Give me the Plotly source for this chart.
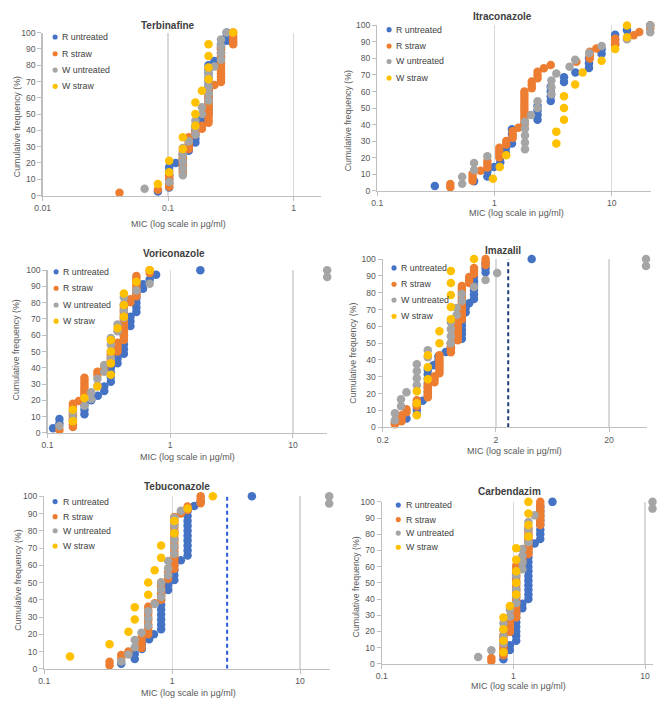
import plotly.graph_objects as go

# ---------------- DATA (MIC values in µg/ml and number of isolates at each MIC) ----------------
SERIES_NAMES = ["R untreated", "R straw", "W untreated", "W straw"]
PANEL_TITLES = ["Terbinafine", "Itraconazole", "Voriconazole", "Imazalil", "Tebuconazole", "Carbendazim"]

terbinafine_r_untreated_mic = [0.083, 0.102, 0.115, 0.131, 0.146, 0.165, 0.186, 0.21, 0.234, 0.264, 0.293]
terbinafine_r_untreated_n = [1, 6, 1, 2, 2, 5, 2, 13, 1, 4, 3]
terbinafine_r_straw_mic = [0.041, 0.083, 0.102, 0.131, 0.146, 0.165, 0.186, 0.21, 0.234, 0.264, 0.33]
terbinafine_r_straw_n = [1, 1, 5, 8, 5, 2, 2, 13, 1, 13, 5]
terbinafine_w_untreated_mic = [0.065, 0.102, 0.131, 0.146, 0.165, 0.186, 0.21, 0.234, 0.264, 0.293]
terbinafine_w_untreated_n = [1, 1, 5, 1, 3, 2, 5, 1, 4, 1]
terbinafine_w_straw_mic = [0.083, 0.102, 0.131, 0.165, 0.186, 0.21, 0.33]
terbinafine_w_straw_n = [1, 2, 2, 3, 1, 4, 1]

itraconazole_r_untreated_mic = [0.31, 0.67, 0.87, 0.99, 1.12, 1.25, 1.41, 1.8, 2.33, 3.02, 3.92, 4.9, 6.4, 8.2, 10.7, 13.5, 21.3]
itraconazole_r_untreated_n = [1, 1, 2, 1, 2, 2, 4, 1, 4, 4, 2, 1, 3, 2, 3, 1, 1]
itraconazole_r_straw_mic = [0.42, 0.65, 0.76, 0.87, 1.1, 1.26, 1.43, 1.6, 1.8, 2.08, 2.33, 2.64, 3.02, 5.0, 6.5, 7.4, 10.7, 15.4, 17.2, 21.3]
itraconazole_r_straw_n = [2, 3, 1, 3, 4, 2, 3, 1, 11, 3, 3, 1, 1, 1, 3, 1, 3, 1, 1, 2]
itraconazole_w_untreated_mic = [0.53, 0.67, 0.87, 1.82, 2.05, 2.33, 3.06, 3.37, 4.37, 4.88, 6.43, 8.2, 13.5, 21.3]
itraconazole_w_untreated_n = [2, 2, 1, 5, 1, 2, 3, 1, 1, 1, 1, 1, 1, 2]
itraconazole_w_straw_mic = [0.97, 1.11, 1.26, 3.37, 3.92, 4.88, 5.65, 8.2, 10.7, 13.5]
itraconazole_w_straw_n = [1, 1, 1, 2, 3, 1, 1, 1, 1, 2]

voriconazole_r_untreated_mic = [0.111, 0.125, 0.2, 0.227, 0.257, 0.29, 0.328, 0.372, 0.419, 0.474, 0.53, 0.6, 0.68, 0.767, 1.76]
voriconazole_r_untreated_n = [1, 2, 3, 1, 1, 2, 4, 2, 6, 3, 5, 2, 1, 1, 1]
voriconazole_r_straw_mic = [0.125, 0.161, 0.18, 0.2, 0.255, 0.29, 0.328, 0.372, 0.419, 0.474, 0.53, 0.68]
voriconazole_r_straw_n = [1, 9, 1, 8, 2, 2, 4, 4, 13, 2, 8, 2]
voriconazole_w_untreated_mic = [0.125, 0.161, 0.2, 0.227, 0.255, 0.29, 0.328, 0.372, 0.419, 0.53, 0.68, 19.0]
voriconazole_w_untreated_n = [1, 2, 1, 2, 2, 2, 4, 2, 4, 1, 1, 2]
voriconazole_w_straw_mic = [0.161, 0.2, 0.255, 0.328, 0.372, 0.419, 0.53, 0.68]
voriconazole_w_straw_n = [2, 1, 1, 4, 1, 3, 1, 1]

imazalil_r_untreated_mic = [0.256, 0.324, 0.40, 0.45, 0.5, 0.56, 0.62, 0.72, 0.8, 1.0, 1.08, 1.16, 1.28, 1.62, 4.14]
imazalil_r_untreated_n = [1, 1, 3, 1, 7, 1, 2, 1, 2, 6, 2, 1, 6, 3, 1]
imazalil_r_straw_mic = [0.256, 0.293, 0.324, 0.40, 0.5, 0.573, 0.634, 0.8, 0.92, 1.0, 1.16, 1.28, 1.62]
imazalil_r_straw_n = [1, 3, 2, 3, 5, 3, 7, 4, 7, 12, 3, 3, 3]
imazalil_w_untreated_mic = [0.256, 0.29, 0.324, 0.40, 0.5, 0.8, 0.9, 1.0, 1.28, 1.62, 2.05, 42.4]
imazalil_w_untreated_n = [2, 2, 1, 4, 2, 4, 2, 2, 1, 1, 1, 2]
imazalil_w_straw_mic = [0.40, 0.5, 0.634, 0.8, 1.28]
imazalil_w_straw_n = [3, 3, 2, 5, 1]
imazalil_breakpoint = 2.57

tebuconazole_r_untreated_mic = [0.40, 0.51, 0.58, 0.66, 0.72, 0.82, 0.93, 1.04, 1.17, 1.32, 1.49, 1.67, 4.2]
tebuconazole_r_untreated_n = [1, 2, 2, 1, 1, 8, 2, 4, 1, 10, 1, 1, 1]
tebuconazole_r_straw_mic = [0.324, 0.40, 0.455, 0.576, 0.65, 0.73, 0.82, 0.93, 1.04, 1.17, 1.32, 1.67]
tebuconazole_r_straw_n = [2, 2, 1, 4, 9, 1, 6, 3, 16, 1, 2, 3]
tebuconazole_w_untreated_mic = [0.40, 0.455, 0.51, 0.576, 0.65, 0.73, 0.82, 0.93, 1.04, 1.17, 16.9]
tebuconazole_w_untreated_n = [1, 1, 2, 1, 3, 1, 3, 3, 6, 1, 2]
tebuconazole_w_straw_mic = [0.159, 0.324, 0.455, 0.51, 0.65, 0.73, 0.82, 1.04, 1.32, 2.08]
tebuconazole_w_straw_n = [1, 1, 1, 2, 2, 1, 2, 2, 1, 1]
tebuconazole_breakpoint = 2.69

carbendazim_r_untreated_mic = [0.84, 0.94, 1.05, 1.17, 1.30, 1.45, 1.6, 1.98]
carbendazim_r_untreated_n = [2, 2, 7, 2, 12, 1, 8, 1]
carbendazim_r_straw_mic = [0.68, 0.84, 0.94, 1.05, 1.17, 1.30, 1.6]
carbendazim_r_straw_n = [2, 8, 5, 19, 3, 10, 9]
carbendazim_w_untreated_mic = [0.54, 0.68, 0.84, 0.94, 1.05, 1.17, 1.30, 1.45, 11.4]
carbendazim_w_untreated_n = [1, 1, 4, 2, 5, 4, 4, 1, 2]
carbendazim_w_straw_mic = [0.84, 0.94, 1.05, 1.30]
carbendazim_w_straw_n = [4, 1, 5, 4]

# x tick labels
ticks_terbinafine = [0.01, 0.1, 1]
ticks_decade = [0.1, 1, 10]
ticks_imazalil = [0.2, 2, 20]
y_ticks = list(range(0, 101, 10))

# ---------------- STYLE / LAYOUT ----------------
W, H = 669, 707
COLORS = ["#4472C4", "#ED7D31", "#A5A5A5", "#FFC000"]
FONT = "Liberation Sans, Arial, sans-serif"
TXT = "#595959"

data_by_panel = [
    [(terbinafine_r_untreated_mic, terbinafine_r_untreated_n), (terbinafine_r_straw_mic, terbinafine_r_straw_n),
     (terbinafine_w_untreated_mic, terbinafine_w_untreated_n), (terbinafine_w_straw_mic, terbinafine_w_straw_n)],
    [(itraconazole_r_untreated_mic, itraconazole_r_untreated_n), (itraconazole_r_straw_mic, itraconazole_r_straw_n),
     (itraconazole_w_untreated_mic, itraconazole_w_untreated_n), (itraconazole_w_straw_mic, itraconazole_w_straw_n)],
    [(voriconazole_r_untreated_mic, voriconazole_r_untreated_n), (voriconazole_r_straw_mic, voriconazole_r_straw_n),
     (voriconazole_w_untreated_mic, voriconazole_w_untreated_n), (voriconazole_w_straw_mic, voriconazole_w_straw_n)],
    [(imazalil_r_untreated_mic, imazalil_r_untreated_n), (imazalil_r_straw_mic, imazalil_r_straw_n),
     (imazalil_w_untreated_mic, imazalil_w_untreated_n), (imazalil_w_straw_mic, imazalil_w_straw_n)],
    [(tebuconazole_r_untreated_mic, tebuconazole_r_untreated_n), (tebuconazole_r_straw_mic, tebuconazole_r_straw_n),
     (tebuconazole_w_untreated_mic, tebuconazole_w_untreated_n), (tebuconazole_w_straw_mic, tebuconazole_w_straw_n)],
    [(carbendazim_r_untreated_mic, carbendazim_r_untreated_n), (carbendazim_r_straw_mic, carbendazim_r_straw_n),
     (carbendazim_w_untreated_mic, carbendazim_w_untreated_n), (carbendazim_w_straw_mic, carbendazim_w_straw_n)],
]
tick_sets = [ticks_terbinafine, ticks_decade, ticks_decade, ticks_imazalil, ticks_decade, ticks_decade]
breakpoints = [None, None, None, (imazalil_breakpoint, "#1F3D7A"), (tebuconazole_breakpoint, "#2A5BD7"), None]

# pixel geometry of each panel: plot box (left, right, top, bottom), x range (log10)
geom = [
    dict(box=(35, 317, 28, 193.3), xr=(-2, 0.22), title=(162, 21), xt=(173, 222), yt=(9, 123),
         leg=(47.7, 53, [32.5, 49.5, 66, 82.5])),
    dict(box=(373.7, 651, 20.7, 188.3), xr=(-1, 1.337), title=(500, 12), xt=(515, 211), yt=(344, 117),
         leg=(385.7, 391, [25, 41.7, 57.3, 74])),
    dict(box=(40, 323.3, 269, 434), xr=(-1, 1.281), title=(168, 252), xt=(182, 458), yt=(8.5, 350),
         leg=(48.7, 54, [270.7, 287.3, 304.3, 320.7])),
    dict(box=(379.3, 646.7, 257.7, 428.3), xr=(-0.699, 1.636), title=(500.7, 249.5), xt=(513, 452), yt=(349, 353),
         leg=(390.7, 396, [266.7, 283.3, 299.3, 315.7])),
    dict(box=(36.7, 325.5, 498.3, 673.3), xr=(-1, 1.231), title=(170.7, 488), xt=(182.7, 697.5), yt=(10, 583),
         leg=(47.7, 53.3, [503.7, 519, 533.3, 548.7])),
    dict(box=(378.3, 653, 504, 668.3), xr=(-1, 1.062), title=(507.7, 493), xt=(516.7, 690.5), yt=(352, 590),
         leg=(395, 400.7, [507.3, 522, 535.7, 550])),
]


def px_x(x):
    return x / W


def px_y(y):
    return 1 - y / H


def cumulative(mic, counts):
    total = sum(counts)
    xs, ys, c = [], [], 0
    for m, k in zip(mic, counts):
        for _ in range(k):
            c += 1
            xs.append(m)
            ys.append(100.0 * c / total)
    return xs, ys


fig = go.Figure()
layout = dict(width=W, height=H, margin=dict(l=0, r=0, t=0, b=0), paper_bgcolor="white",
              plot_bgcolor="white", showlegend=False, font=dict(family=FONT, color=TXT, size=9))
annotations = []
shapes = []

for i, (series, g) in enumerate(zip(data_by_panel, geom)):
    s = "" if i == 0 else str(i + 1)
    xa, ya = "x" + s, "y" + s
    l, r, t, b = g["box"]
    ticks = tick_sets[i]
    layout["xaxis" + s] = dict(
        type="log", range=list(g["xr"]), domain=[px_x(l), px_x(r)], anchor=ya,
        tickvals=ticks, ticktext=[str(v) for v in ticks], showgrid=True, gridcolor="#D9D9D9", gridwidth=1.3,
        showline=True, linecolor="#BFBFBF", linewidth=1.2, ticks="outside", ticklen=4, tickcolor="#BFBFBF",
        tickfont=dict(size=8.6, color=TXT, family=FONT), zeroline=False, fixedrange=True)
    layout["yaxis" + s] = dict(
        range=[0, 100], domain=[px_y(b), px_y(t)], anchor=xa, tickvals=y_ticks, showgrid=False,
        showline=True, linecolor="#BFBFBF", linewidth=1.2, ticks="outside", ticklen=4, tickcolor="#BFBFBF",
        tickfont=dict(size=8.6, color=TXT, family=FONT), zeroline=False, fixedrange=True)

    if breakpoints[i] is not None:
        bx, bc = breakpoints[i]
        fig.add_trace(go.Scatter(x=[bx, bx], y=[0, 100], mode="lines", xaxis=xa, yaxis=ya,
                                 line=dict(color=bc, width=2, dash="4px,3px"), hoverinfo="skip",
                                 showlegend=False))

    for (mic, cnt), name, col in zip(series, SERIES_NAMES, COLORS):
        xs, ys = cumulative(mic, cnt)
        fig.add_trace(go.Scatter(x=xs, y=ys, mode="markers", name=name, xaxis=xa, yaxis=ya,
                                 marker=dict(color=col, size=8.5, line=dict(width=0)),
                                 cliponaxis=False, showlegend=False))

    # panel title
    tx, ty = g["title"]
    annotations.append(dict(text="<b>%s</b>" % PANEL_TITLES[i], x=px_x(tx), y=px_y(ty), xref="paper",
                            yref="paper", showarrow=False, xanchor="center", yanchor="middle",
                            font=dict(size=10, color="#404040", family=FONT)))
    # axis titles
    ax_, ay_ = g["xt"]
    annotations.append(dict(text="MIC (log scale in μg/ml)", x=px_x(ax_), y=px_y(ay_), xref="paper",
                            yref="paper", showarrow=False, xanchor="center", yanchor="middle",
                            font=dict(size=9, color=TXT, family=FONT)))
    yx, yy = g["yt"]
    annotations.append(dict(text="Cumulative frequency (%)", x=px_x(yx), y=px_y(yy), xref="paper",
                            yref="paper", showarrow=False, xanchor="center", yanchor="middle", textangle=-90,
                            font=dict(size=8.8, color=TXT, family=FONT)))
    # legend
    mx, txx, lys = g["leg"]
    for name, col, ly in zip(SERIES_NAMES, COLORS, lys):
        rr = 2.6
        shapes.append(dict(type="circle", xref="paper", yref="paper", x0=px_x(mx - rr), x1=px_x(mx + rr),
                           y0=px_y(ly + rr), y1=px_y(ly - rr), fillcolor=col, line=dict(width=0)))
        annotations.append(dict(text=name, x=px_x(txx), y=px_y(ly), xref="paper", yref="paper",
                                showarrow=False, xanchor="left", yanchor="middle",
                                font=dict(size=8.8, color="#404040", family=FONT)))

layout["annotations"] = annotations
layout["shapes"] = shapes
fig.update_layout(**layout)

PAGE_JS = (
    "document.documentElement.style.margin='0';document.documentElement.style.padding='0';"
    "document.body.style.margin='0';document.body.style.padding='0';document.body.style.overflow='hidden';"
    "var gd=document.getElementById('{plot_id}');gd.style.position='fixed';gd.style.left='0px';"
    "gd.style.top='0px';"
)
fig.write_html("out.html", config={"displayModeBar": False, "staticPlot": True}, post_script=PAGE_JS)
